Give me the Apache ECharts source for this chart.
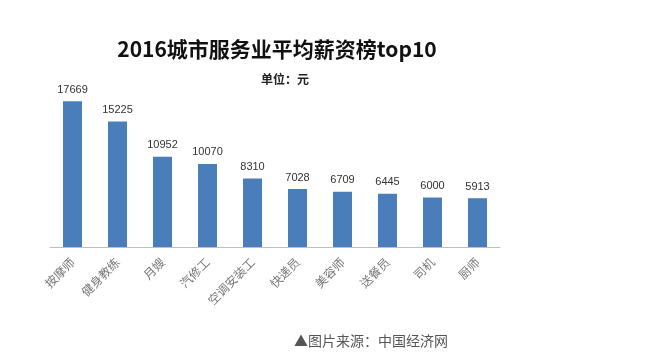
<!DOCTYPE html>
<html><head><meta charset="utf-8">
<script src="https://cdn.jsdelivr.net/npm/echarts@6/dist/echarts.min.js"></script>
<style>html,body{margin:0;padding:0;background:#fff}#c{width:653px;height:353px}</style>
</head><body><div id="c"></div>
<script>
var categories = ['按摩师','健身教练','月嫂','汽修工','空调安装工','快递员','美容师','送餐员','司机','厨师'];
var salaries = [17669,15225,10952,10070,8310,7028,6709,6445,6000,5913];
var titleText = '2016城市服务业平均薪资榜top10';
var subText = '单位：元';
var sourceText = '▲图片来源：中国经济网';

var chart = echarts.init(document.getElementById('c'));
chart.setOption({
  backgroundColor: '#fff',
  animation: false,
  title: [
    {text: titleText, left: 272, top: 34, textAlign: 'center',
     textStyle: {fontFamily: 'Noto Sans CJK SC', fontSize: 21, fontWeight: 'bold', color: '#111'}},
    {text: subText, left: 280, top: 68, textAlign: 'center',
     textStyle: {fontFamily: 'Noto Sans CJK SC', fontSize: 12, fontWeight: 'bold', color: '#222'}},
    {text: sourceText, left: 289, top: 329,
     textStyle: {fontFamily: 'Noto Sans CJK SC', fontSize: 14, fontWeight: 'normal', color: '#555'}}
  ],
  grid: {left: 50, right: 153, top: 82, bottom: 106, containLabel: false},
  xAxis: {
    type: 'category', data: categories,
    axisLine: {lineStyle: {color: '#bfbfbf', width: 1}},
    axisTick: {show: false},
    axisLabel: {interval: 0, rotate: 45, margin: 13, fontFamily: 'Noto Sans CJK SC', fontSize: 12, color: '#777'}
  },
  yAxis: {type: 'value', min: 0, max: 20000, show: false, splitLine: {show: false}},
  series: [{
    type: 'bar', data: salaries, barWidth: 19,
    itemStyle: {color: '#4a7ebb'},
    label: {show: true, position: 'top', distance: 6, fontFamily: 'Liberation Sans', fontSize: 11, color: '#333'}
  }]
});
</script></body></html>
